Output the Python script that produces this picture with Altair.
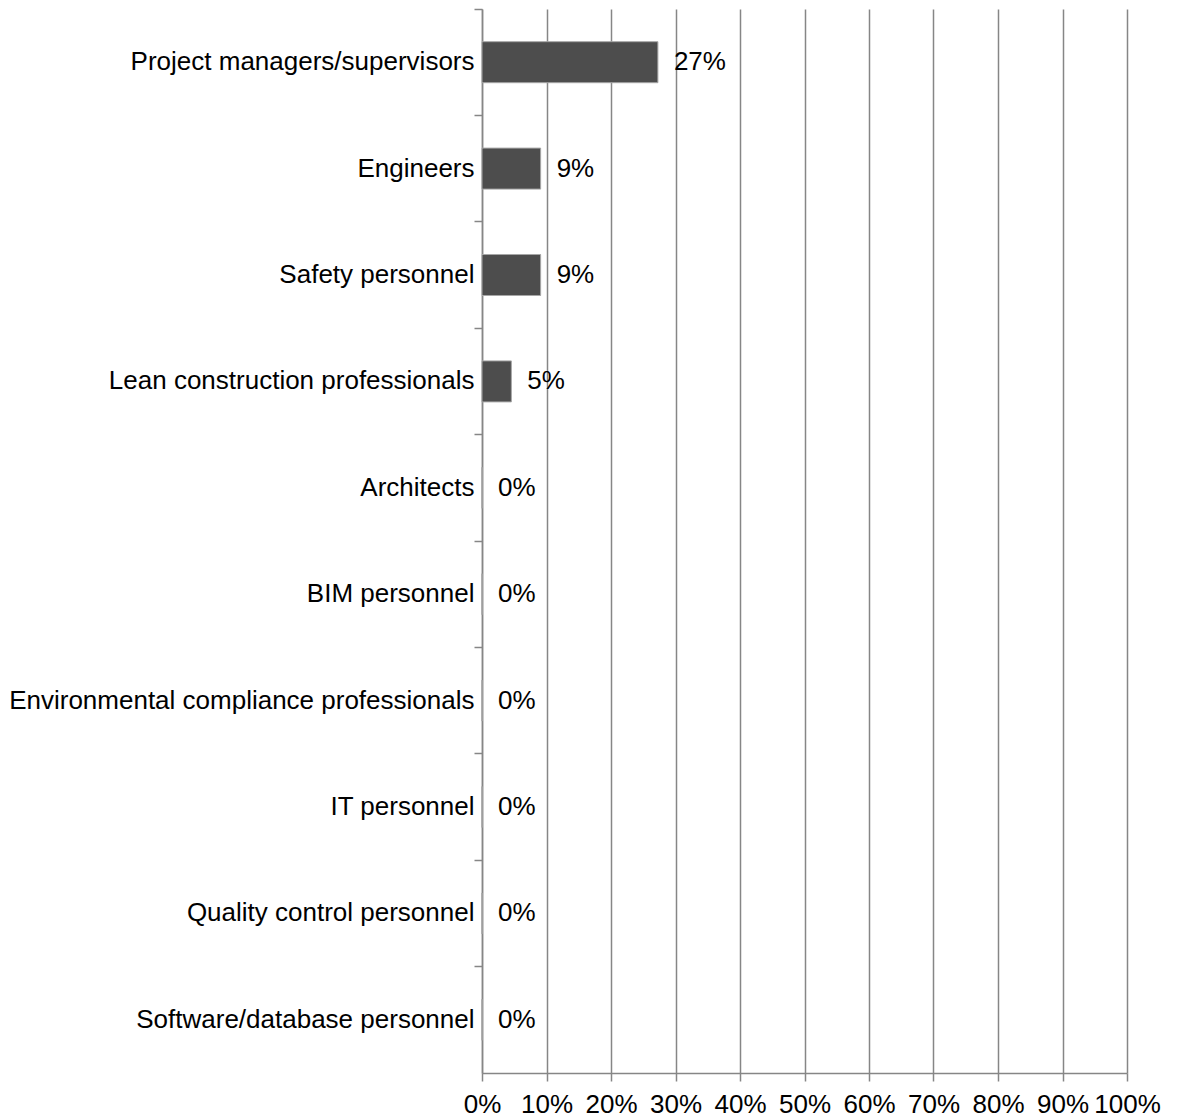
import altair as alt
import pandas as pd

categories = [
    "Project managers/supervisors",
    "Engineers",
    "Safety personnel",
    "Lean construction professionals",
    "Architects",
    "BIM personnel",
    "Environmental compliance professionals",
    "IT personnel",
    "Quality control personnel",
    "Software/database personnel",
]
shares = [0.2727, 0.0909, 0.0909, 0.0455, 0, 0, 0, 0, 0, 0]
x_ticks = [0, 0.1, 0.2, 0.3, 0.4, 0.5, 0.6, 0.7, 0.8, 0.9, 1.0]

df = pd.DataFrame({"category": categories, "share": shares})

FONT = "Liberation Sans"
GRID = "#868686"
FS = 26

y_enc = alt.Y(
    "category:N",
    sort=categories,
    scale=alt.Scale(paddingInner=0, paddingOuter=0),
    axis=alt.Axis(
        title=None,
        bandPosition=0,
        tickSize=8,
        labelPadding=0,
        labelFont=FONT,
        labelFontSize=FS,
        labelColor="#000000",
        labelLimit=0,
        grid=False,
    ),
)
x_enc = alt.X(
    "share:Q",
    scale=alt.Scale(domain=[0, 1], nice=False),
    axis=alt.Axis(
        title=None,
        values=x_ticks,
        format=".0%",
        grid=True,
        tickSize=8,
        labelPadding=10,
        labelFont=FONT,
        labelFontSize=FS,
        labelColor="#000000",
        labelFlush=False,
        labelOverlap=False,
    ),
)

bars = alt.Chart(df).mark_bar(
    size=41, color="#4d4d4d", stroke="#a6a6a6", strokeWidth=1
).encode(x=x_enc, y=y_enc)

labels = alt.Chart(df).mark_text(
    align="left", baseline="middle", dx=16, font=FONT, fontSize=FS, color="#000000"
).encode(
    x=alt.X("share:Q"),
    y=alt.Y("category:N", sort=categories),
    text=alt.Text("share:Q", format=".0%"),
)

chart = (
    alt.layer(bars, labels)
    .properties(
        width=645,
        height=1064,
        padding={"left": 0, "top": 0, "right": 5, "bottom": 5},
    )
    .configure_view(stroke=None)
    .configure_axis(
        domainColor=GRID,
        tickColor=GRID,
        gridColor=GRID,
        domainWidth=1.5,
        tickWidth=1.5,
        gridWidth=1.5,
    )
)

chart.save("out.html", embed_options={"renderer": "svg", "actions": False})
